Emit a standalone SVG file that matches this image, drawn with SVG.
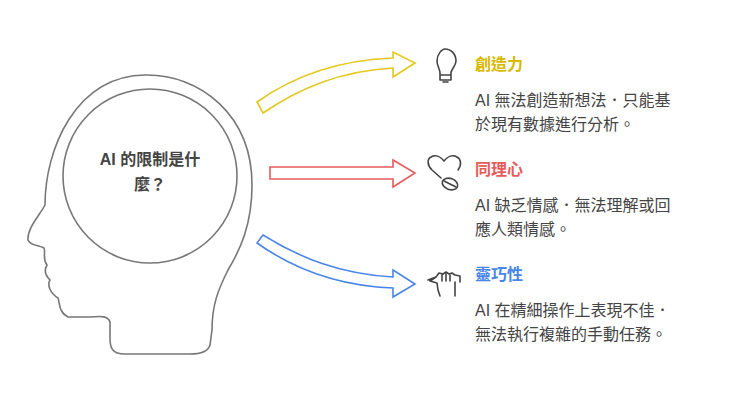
<svg xmlns="http://www.w3.org/2000/svg" width="740" height="402" viewBox="0 0 740 402">
<style>
.t{font-family:"Liberation Sans","Noto Sans CJK TC",sans-serif}
.h{font-size:16px;font-weight:bold}
.b{font-size:16px;fill:#444}
.ic{fill:none;stroke:#444;stroke-width:1.6;stroke-linecap:round;stroke-linejoin:round}
</style>
<rect width="740" height="402" fill="#fff"/>
<g id="head">
<path d="M145,75 C200,74 252,115 252,185 C252,225 240,250 228,270 C218,290 212,305 212,330 L210,345 C208,352 200,354 190,354 L125,354 C112,354 110,348 110,338 L110,322 C108,316 102,316 90,317 L68,317 C58,312 60,302 58,298 C50,293 47,285 50,280 C45,275 44,270 47,265 C42,258 46,252 44,248 C40,245 30,246 28,240 C27,228 40,215 45,205 C45,150 75,76 145,75 Z" fill="none" stroke="#777" stroke-width="1.6"/>
<circle cx="150" cy="176" r="87" fill="none" stroke="#777" stroke-width="1.6"/>
<text class="t" x="150" y="165" text-anchor="middle" font-size="16" font-weight="bold" fill="#444">AI 的限制是什</text>
<text class="t" x="150" y="190" text-anchor="middle" font-size="16" font-weight="bold" fill="#444">麼？</text>
</g>
<g id="connectors" stroke-width="1.6" stroke-linejoin="miter">
<path d="M393,58 C340,60 295,75 257,102 L263,113 C300,88 340,71 393,68 L393,77 L415,63 L393,52 Z" fill="#fff" stroke="#e4c81c"/>
<path d="M270,167 L393,167 L393,160 L415,173 L393,187 L393,179 L270,179 Z" fill="#fff" stroke="#e85b5b"/>
<path d="M263,235 C300,258 340,274 393,277 L393,270 L415,284 L393,297 L393,288 C340,286 295,270 257,243 Z" fill="#fff" stroke="#4a86e8"/>
</g>
<g id="creativity">
<path class="ic" d="M437,61 C437,54 442,49 445,49 C451,49 456,54 456,61 C456,66 451,69 451,73 L451,80 L440,80 L440,73 C440,69 437,66 437,61 Z M440,75 L451,75 M443,82 L448,82"/>
<text class="t h" x="475" y="70" fill="#d8b800">創造力</text>
<text class="t b" x="475" y="106">AI 無法創造新想法．只能基</text>
<text class="t b" x="475" y="130">於現有數據進行分析。</text>
</g>
<g id="empathy">
<path class="ic" d="M441,178 L432,170 C427,165 427,159 431,157 C436,154 441,157 444,161 C447,157 452,154 457,157 C461,159 462,165 458,170"/>
<ellipse class="ic" cx="450" cy="184" rx="8" ry="5.5" transform="rotate(20 450 184)"/>
<path class="ic" d="M444,181 L456,187"/>
<text class="t h" x="475" y="175" fill="#e85b5b">同理心</text>
<text class="t b" x="475" y="211">AI 缺乏情感．無法理解或回</text>
<text class="t b" x="475" y="235">應人類情感。</text>
</g>
<g id="dexterity">
<path class="ic" d="M428,280 L436,277 L439,273 L443,274 L446,272 L449,274 L452,273 L455,275 L460,276 L460,282 M436,277 L430,281 L437,283 L438,290 L440,296 M455,282 L455,296 M442,275 L442,281 M446,274 L446,281 M450,275 L450,281"/>
<text class="t h" x="475" y="280" fill="#4a86e8">靈巧性</text>
<text class="t b" x="475" y="316">AI 在精細操作上表現不佳．</text>
<text class="t b" x="475" y="340">無法執行複雜的手動任務。</text>
</g>
</svg>
